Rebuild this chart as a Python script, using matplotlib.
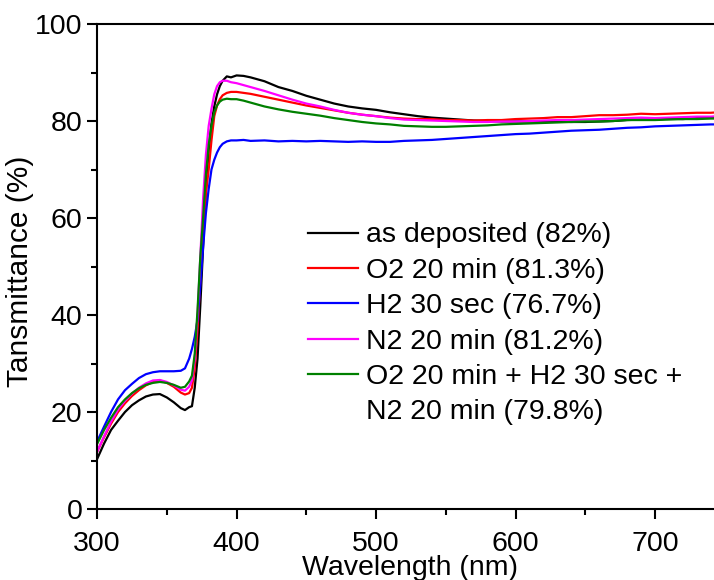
import matplotlib.pyplot as plt
from matplotlib.lines import Line2D

plt.rcParams['font.family'] = ['Liberation Sans', 'DejaVu Sans']

# wavelength grid (nm)
wl = [300, 305, 310, 315, 320, 325, 330, 335, 340, 345, 350, 355, 360,
      363, 366, 368, 370, 372, 374, 376, 378, 380, 382, 384, 386, 388, 390,
      393, 396, 400, 405, 410,
      420, 430, 440, 450, 460, 470, 480, 490, 500, 510, 520, 530, 540, 550,
      560, 570, 580, 590, 600, 610, 620, 630, 640, 650, 660, 670, 680, 690,
      700, 710, 720, 730, 740, 745]

t_asdep = [10.3, 13.5, 16.3, 18.2, 20.0, 21.4, 22.4, 23.2, 23.6, 23.7, 23.0, 22.0, 20.8,
           20.4, 21.0, 21.2, 25.0, 31.0, 42.0, 54.0, 66.0, 74.0, 79.5, 83.0, 85.5, 87.2, 88.3,
           89.2, 89.0, 89.4, 89.3, 89.0,
           88.2, 87.0, 86.2, 85.2, 84.4, 83.6, 83.0, 82.6, 82.3, 81.8, 81.4, 81.0, 80.7, 80.5,
           80.3, 80.1, 80.0, 79.9, 79.9, 79.9, 79.8, 79.9, 79.8, 79.8, 79.9, 80.0, 80.2, 80.3,
           80.3, 80.5, 80.4, 80.6, 80.7, 80.8]

t_o2 = [11.8, 14.8, 17.6, 20.0, 21.8, 23.3, 24.5, 25.5, 26.2, 26.5, 26.0, 25.2, 24.0,
        23.6, 23.9, 25.0, 29.0, 37.0, 47.0, 57.0, 65.0, 70.0, 76.0, 81.0, 83.2, 84.5, 85.3,
        85.8, 86.0, 86.0, 85.8, 85.6,
        85.0, 84.4, 83.8, 83.2, 82.7, 82.2, 81.7, 81.3, 81.0, 80.7, 80.5, 80.4, 80.4, 80.2,
        80.2, 80.1, 80.2, 80.2, 80.4, 80.5, 80.6, 80.8, 80.8, 81.0, 81.2, 81.2, 81.3, 81.5,
        81.4, 81.5, 81.6, 81.7, 81.7, 81.8]

t_h2 = [13.9, 17.0, 20.0, 22.6, 24.5, 25.8, 27.0, 27.8, 28.2, 28.4, 28.4, 28.4, 28.5,
        29.0, 31.0, 33.0, 35.5, 39.0, 46.0, 54.0, 61.0, 66.0, 70.0, 72.0, 73.5, 74.6, 75.3,
        75.8, 76.0, 76.0, 76.1, 75.9,
        76.0, 75.8, 75.9, 75.8, 75.9, 75.8, 75.7, 75.8, 75.7, 75.7, 75.9, 76.0, 76.1, 76.3,
        76.5, 76.7, 76.9, 77.1, 77.3, 77.4, 77.6, 77.8, 78.0, 78.1, 78.2, 78.4, 78.6, 78.7,
        78.9, 79.0, 79.1, 79.2, 79.3, 79.3]

t_n2 = [11.8, 15.0, 18.0, 20.5, 22.3, 23.8, 25.0, 25.9, 26.5, 26.6, 26.2, 25.5, 24.6,
        24.4, 25.2, 26.5, 31.0, 40.0, 52.0, 64.0, 73.0, 79.0, 82.5, 85.5, 87.2, 88.0, 88.3,
        88.3, 88.0, 87.8, 87.4, 87.0,
        86.2, 85.3, 84.4, 83.6, 83.0, 82.3, 81.7, 81.3, 81.0, 80.6, 80.3, 80.2, 80.1, 80.0,
        79.9, 79.8, 79.8, 79.9, 79.9, 80.0, 80.1, 80.2, 80.2, 80.3, 80.4, 80.5, 80.6, 80.7,
        80.6, 80.7, 80.8, 80.9, 80.9, 81.0]

t_combo = [13.4, 16.3, 18.8, 21.0, 22.6, 23.9, 24.9, 25.6, 26.0, 26.2, 26.0, 25.6, 25.0,
           25.2, 26.3, 27.5, 32.0, 41.0, 52.0, 60.0, 69.0, 75.0, 79.0, 81.8, 83.2, 84.0, 84.4,
           84.6, 84.5, 84.5, 84.2, 83.8,
           83.0, 82.4, 81.9, 81.5, 81.1, 80.6, 80.2, 79.8, 79.5, 79.3, 79.0, 78.9, 78.8, 78.8,
           78.9, 79.0, 79.1, 79.3, 79.4, 79.5, 79.6, 79.7, 79.8, 79.9, 79.9, 80.0, 80.2, 80.2,
           80.2, 80.3, 80.4, 80.4, 80.5, 80.5]

labels = ['as deposited (82%)', 'O2 20 min (81.3%)', 'H2 30 sec (76.7%)',
          'N2 20 min (81.2%)', 'O2 20 min + H2 30 sec +']
label_extra = 'N2 20 min (79.8%)'
colors = ['black', 'red', 'blue', 'magenta', 'green']

fig = plt.figure(figsize=(7.14, 5.8), dpi=100)
ax = fig.add_axes([0.136, 0.1224, 0.864, 0.8362])

series = [t_asdep, t_o2, t_h2, t_n2, t_combo]
handles = []
for y, c, lab in zip(series, colors, labels):
    h, = ax.plot(wl, y, color=c, lw=1.6, label=lab)
    handles.append(h)
# second line of the last label, without its own line sample
handles.append(Line2D([], [], color='none', label=label_extra))

ax.set_xlim(300, 742.3)
ax.set_ylim(0, 100)
ax.set_xticks([300, 400, 500, 600, 700])
ax.set_xticks([350, 450, 550, 650], minor=True)
ax.set_yticks([0, 20, 40, 60, 80, 100])
ax.set_yticks([10, 30, 50, 70, 90], minor=True)

ax.spines['right'].set_visible(False)
for s in ['left', 'bottom', 'top']:
    ax.spines[s].set_linewidth(1.5)
ax.tick_params(which='major', direction='out', length=7, width=1.5, labelsize=20.5,
               top=False, right=False)
ax.tick_params(axis='x', which='major', pad=9)
ax.tick_params(which='minor', direction='out', length=4, width=1.5, top=False, right=False)

ax.set_xlabel('Wavelength (nm)', fontsize=20.5)
ax.xaxis.set_label_coords(0.508, -0.095)
ax.set_ylabel('Tansmittance (%)', fontsize=21.5)
ax.yaxis.set_label_coords(-0.102, 0.49)

fig.legend(handles=handles, loc='upper left', bbox_to_anchor=(0.4314, 0.6164),
           frameon=False, fontsize=20.5, handlelength=1.75, handletextpad=0.28,
           labelspacing=0.33, borderpad=0, borderaxespad=0)

plt.savefig('out.png', dpi=100)
